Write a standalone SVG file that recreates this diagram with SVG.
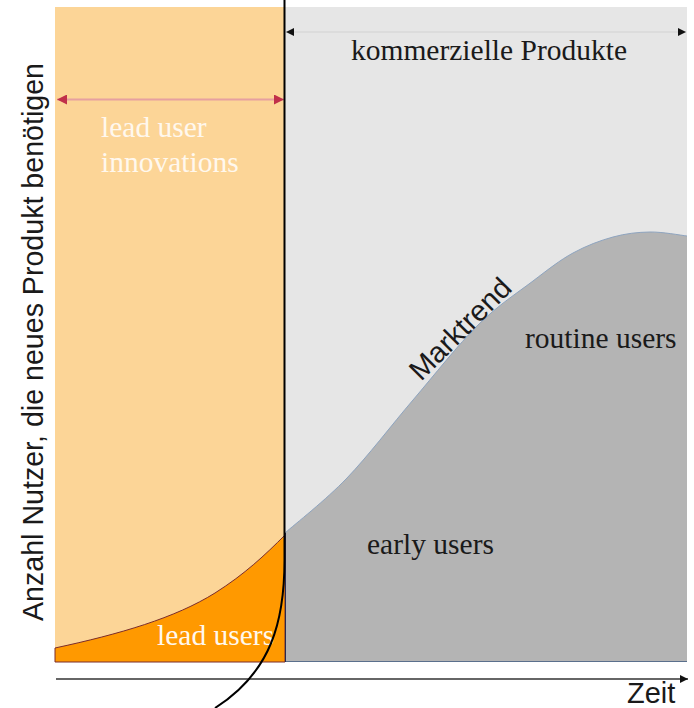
<svg xmlns="http://www.w3.org/2000/svg" width="694" height="708" viewBox="0 0 694 708">
  <style>
    .serif { font-family: "Liberation Serif", "Times New Roman", serif; font-size: 29.5px; }
    .sans { font-family: "Liberation Sans", Arial, sans-serif; }
    .dark { fill: #1a1a1a; }
    .light { fill: #fff8ee; }
  </style>
  <defs>
    <marker id="redHead" viewBox="0 0 10 10" refX="10" refY="5" markerWidth="10" markerHeight="10" markerUnits="userSpaceOnUse" orient="auto-start-reverse">
      <path d="M0,0 L10,5 L0,10 Z" fill="#c0304a"/>
    </marker>
    <marker id="blackHead" viewBox="0 0 10 10" refX="10" refY="5" markerWidth="9" markerHeight="8" markerUnits="userSpaceOnUse" orient="auto-start-reverse">
      <path d="M0,0 L10,5 L0,10 Z" fill="#111"/>
    </marker>
    <path id="trend" d="M285,533 C295.3,523.8 325.7,500.2 347,478 C368.3,455.8 391.2,425.5 413,400 C434.8,374.5 458,344.8 478,325 C498,305.2 517.2,293 533,281 C548.8,269 559.7,260.3 573,253 C586.3,245.7 600.2,240.5 613,237 C625.8,233.5 637.7,232.2 650,232 C662.3,231.8 680.8,235.3 687,236"/>
  </defs>

  <!-- background panels -->
  <g id="lead-phase">
    <rect x="55" y="7" width="230" height="655" fill="#fcd597"/>
  </g>
  <g id="commercial-phase">
    <rect x="285" y="7" width="402" height="655" fill="#e6e6e6"/>
  </g>

  <!-- lead users area under the curve -->
  <g id="lead-users">
    <path d="M55,648 C120,634 175,618 215,593 C245,574 265,555 285,535 L285,662 L55,662 Z" fill="#ff9900" stroke="#7b2c2c" stroke-width="1"/>
    <text class="serif light" x="157" y="645">lead users</text>
  </g>

  <!-- market trend area -->
  <g id="market">
    <path d="M285,533 C295.3,523.8 325.7,500.2 347,478 C368.3,455.8 391.2,425.5 413,400 C434.8,374.5 458,344.8 478,325 C498,305.2 517.2,293 533,281 C548.8,269 559.7,260.3 573,253 C586.3,245.7 600.2,240.5 613,237 C625.8,233.5 637.7,232.2 650,232 C662.3,231.8 680.8,235.3 687,236 L687,662 L285,662 Z" fill="#b4b4b4"/>
    <use href="#trend" fill="none" stroke="#8ea4bf" stroke-width="1"/>
    <line x1="285" y1="661.5" x2="687" y2="661.5" stroke="#5a6f8c" stroke-width="1.2"/>
    <line x1="285.5" y1="533" x2="285.5" y2="662" stroke="#2a2a50" stroke-width="1"/>
    <text class="sans dark" font-size="29" transform="translate(421,382) rotate(-45)">Marktrend</text>
    <text class="serif dark" x="367" y="554">early users</text>
    <text class="serif dark" x="525" y="348">routine users</text>
  </g>

  <!-- phase labels -->
  <g id="label-lead">
    <text class="serif light" x="101" y="137">lead user</text>
    <text class="serif light" x="101" y="172">innovations</text>
  </g>
  <g id="label-commercial">
    <text class="serif dark" x="489" y="60" text-anchor="middle">kommerzielle Produkte</text>
  </g>

  <!-- axis labels -->
  <g id="axis-y">
    <text class="sans dark" font-size="28.6" text-anchor="middle" transform="translate(43,342) rotate(-90)">Anzahl Nutzer, die neues Produkt benötigen</text>
  </g>
  <g id="axis-x">
    <text class="sans dark" font-size="29" x="627" y="703">Zeit</text>
  </g>

  <!-- connectors: span arrows, time axis and phase boundary -->
  <g id="connectors">
    <line x1="57" y1="99.5" x2="284" y2="99.5" stroke="#e6a0a0" stroke-width="2" marker-start="url(#redHead)" marker-end="url(#redHead)"/>
    <line x1="286" y1="32" x2="686" y2="32" stroke="#d2d2d2" stroke-width="1" marker-start="url(#blackHead)" marker-end="url(#blackHead)"/>
    <line x1="56" y1="679" x2="688" y2="679" stroke="#333" stroke-width="1.5" marker-end="url(#blackHead)"/>
    <path d="M284.5,0 L284.5,560 C284.5,620 272,672 215,708" fill="none" stroke="#000" stroke-width="2"/>
  </g>
</svg>
